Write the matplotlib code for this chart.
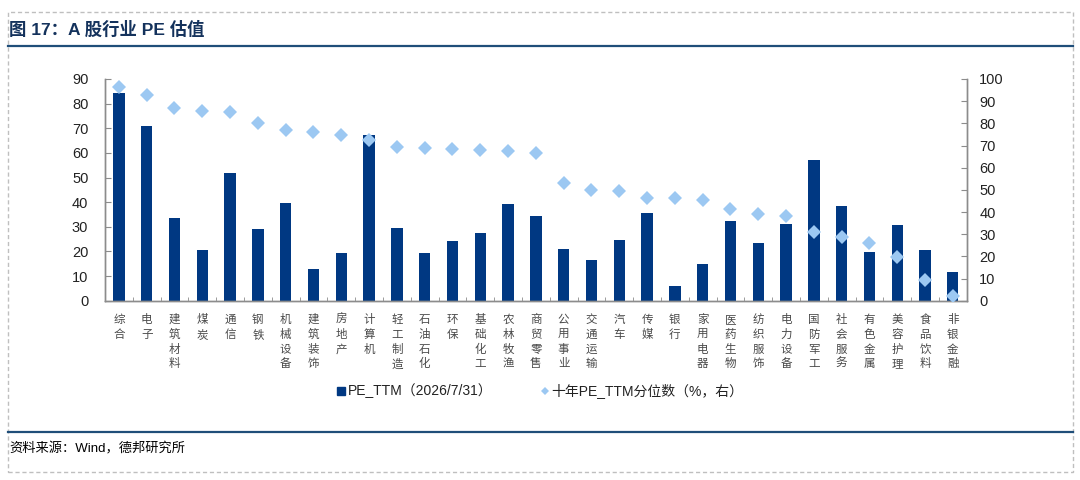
"""
A股行业PE估值 — bar + percentile diamonds on twin axis.
"""
import numpy as np
import matplotlib
matplotlib.use("Agg")
import matplotlib.pyplot as plt
from matplotlib.lines import Line2D
from matplotlib.patches import Rectangle

plt.rcParams["font.family"] = ["Liberation Sans", "Noto Sans CJK SC", "DejaVu Sans"]

industries = ["综合", "电子", "建筑材料", "煤炭", "通信", "钢铁", "机械设备", "建筑装饰",
              "房地产", "计算机", "轻工制造", "石油石化", "环保", "基础化工", "农林牧渔",
              "商贸零售", "公用事业", "交通运输", "汽车", "传媒", "银行", "家用电器",
              "医药生物", "纺织服饰", "电力设备", "国防军工", "社会服务", "有色金属",
              "美容护理", "食品饮料", "非银金融"]
pe_ttm = [84.5, 70.9, 33.4, 20.6, 51.9, 29.2, 39.7, 12.9, 19.2, 67.2, 29.6,
          19.5, 24.3, 27.4, 39.3, 34.5, 21.1, 16.6, 24.6, 35.7, 5.8, 14.9,
          32.3, 23.4, 31.2, 57.0, 38.3, 19.7, 30.8, 20.6, 11.5]
pct_10y = [96.4, 92.8, 86.7, 85.6, 85.0, 80.0, 76.9, 76.1, 74.6, 72.7, 69.2,
           69.1, 68.5, 68.2, 67.7, 66.7, 52.9, 49.9, 49.6, 46.4, 46.1, 45.5,
           41.3, 39.1, 38.0, 31.1, 28.8, 26.0, 19.8, 9.3, 2.1]

BAR_C = "#003882"
DIA_C = "#9CC8F2"
NAVY = "#1F4E79"
SPINE_C = "#8C8C8C"

W, H = 1080, 480
fig = plt.figure(figsize=(W / 100, H / 100), dpi=100)


def fx(px):
    return px / W


def fy(py):
    return 1 - py / H


# frame, header and footer
fig.patches.append(Rectangle((fx(8), fy(472)), fx(1073) - fx(8), fy(12) - fy(472),
                             transform=fig.transFigure, fill=False,
                             edgecolor="#BFBFBF", lw=1, ls=(0, (3, 2))))
fig.add_artist(Line2D([fx(8), fx(1073)], [fy(46), fy(46)], color=NAVY, lw=1.6,
                      transform=fig.transFigure))
fig.add_artist(Line2D([fx(8), fx(1073)], [fy(432), fy(432)], color=NAVY, lw=1.6,
                      transform=fig.transFigure))
fig.text(fx(9), fy(29), "图 17：A 股行业 PE 估值", fontsize=12.5, fontweight="bold",
         color="#14325C", va="center", ha="left")
fig.text(fx(9), fy(449), "资料来源：Wind，德邦研究所", fontsize=9.5,
         color="#000000", va="center", ha="left")

# main axes
ax = fig.add_axes([fx(105), fy(300.7), fx(966.7) - fx(105), fy(79) - fy(300.7)])
ax2 = ax.twinx()
x = np.arange(len(industries))

ax.bar(x, pe_ttm, width=0.41, color=BAR_C, zorder=2)
ax2.plot(x, pct_10y, ls="none", marker="D", markersize=7, color=DIA_C,
         markeredgewidth=0, zorder=3)

ax.set_xlim(-0.5, len(industries) - 0.5)
ax.set_ylim(0, 90)
ax2.set_ylim(0, 100)
ax.set_yticks(np.arange(0, 91, 10))
ax2.set_yticks(np.arange(0, 101, 10))

for a in (ax, ax2):
    a.spines["top"].set_visible(False)
    for s in ("left", "right", "bottom"):
        a.spines[s].set_color(SPINE_C)
        a.spines[s].set_linewidth(1)

ax.tick_params(axis="y", direction="in", length=4, color=SPINE_C, pad=12,
               labelsize=10.5, labelcolor="#222222")
ax2.tick_params(axis="y", direction="in", length=4, color=SPINE_C, pad=9,
                labelsize=10.5, labelcolor="#222222")

# category ticks between bars, labels stacked vertically
ax.set_xticks(x)
ax.set_xticklabels(["\n".join(name) for name in industries],
                   family=["Noto Sans CJK SC"], fontsize=8.3, color="#4A4A4A",
                   va="top", linespacing=1.17)
ax.tick_params(axis="x", which="major", length=0, pad=9)
ax.set_xticks(np.arange(-0.5, len(industries), 1), minor=True)
ax.tick_params(axis="x", which="minor", direction="in", length=3, color=SPINE_C)

handles = [
    Line2D([], [], ls="none", marker="s", markersize=6, color=BAR_C),
    Line2D([], [], ls="none", marker="D", markersize=4, color=DIA_C, markeredgewidth=0),
]
labels = ["PE_TTM（2026/7/31）", "十年PE_TTM分位数（%，右）"]
fig.legend(handles, labels, loc="center", bbox_to_anchor=(fx(540), fy(391)),
           ncol=2, frameon=False, fontsize=10, handlelength=0.6,
           handletextpad=0.15, columnspacing=3.5, labelcolor="#222222")

fig.savefig("out.png", dpi=100)
plt.close(fig)
